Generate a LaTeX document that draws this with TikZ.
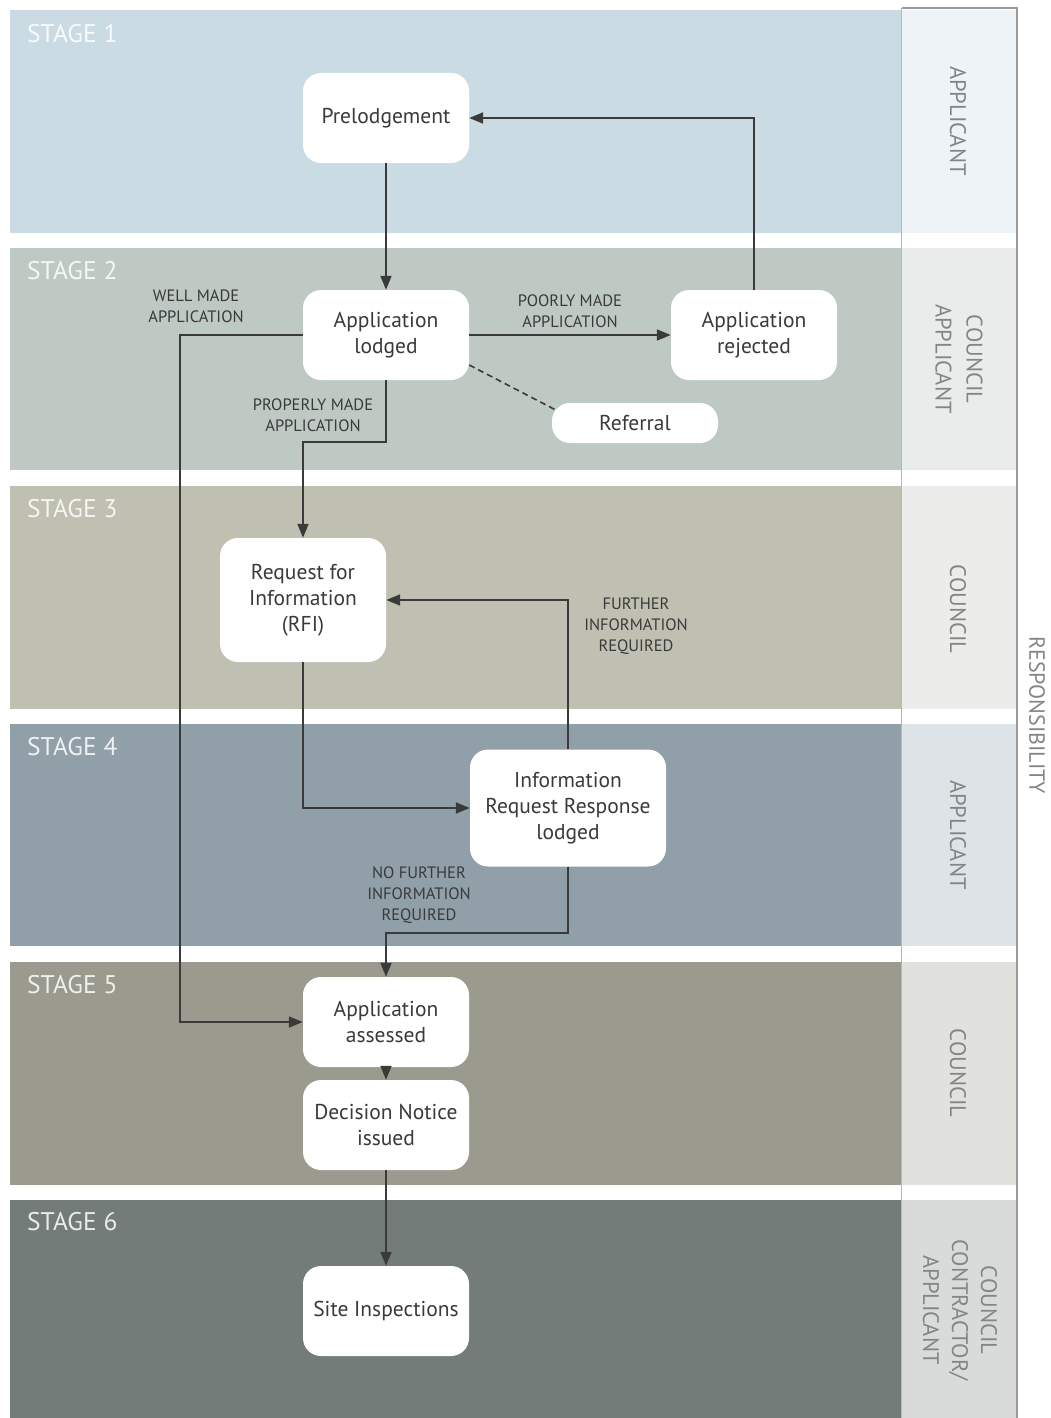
\documentclass[tikz,border=0pt]{standalone}
\usepackage{fontspec}
\setmainfont{PT Sans}
\usetikzlibrary{arrows.meta,calc}

\definecolor{bandA}{HTML}{CBDBE4}
\definecolor{bandB}{HTML}{BFC9C3}
\definecolor{bandC}{HTML}{BFBFB2}
\definecolor{bandD}{HTML}{909FA8}
\definecolor{bandE}{HTML}{9A9A8F}
\definecolor{bandF}{HTML}{747C7A}
\definecolor{cellA}{HTML}{EDF3F6}
\definecolor{cellB}{HTML}{E9ECEA}
\definecolor{cellC}{HTML}{ECECEA}
\definecolor{cellD}{HTML}{DDE3E6}
\definecolor{cellE}{HTML}{E1E1DD}
\definecolor{cellF}{HTML}{D8DBDA}
\definecolor{ink}{HTML}{3A3A3A}
\definecolor{rolegray}{HTML}{858585}
\definecolor{framegray}{HTML}{9A9A9A}
\definecolor{edgegray}{HTML}{B4B8BA}

\begin{document}
\begin{tikzpicture}[x=1pt,y=-1pt,
  box/.style={fill=white, rounded corners=18pt, minimum width=166pt,
    minimum height=90pt, align=center, inner sep=0pt, text=ink,
    font=\fontsize{21.5}{26}\selectfont},
  flow/.style={draw=ink, line width=1.8pt, -{Triangle[length=14pt,width=11pt]}},
  refline/.style={draw=ink, line width=1.6pt, dashed, dash pattern=on 6pt off 4pt},
  cond/.style={align=center, text=ink, inner sep=0pt,
    font=\fontsize{16.5}{21}\selectfont},
  stagelbl/.style={anchor=west, text=white, opacity=0.85, inner sep=0pt,
    font=\fontsize{25.5}{28}\selectfont},
  role/.style={rotate=-90, align=center, text=rolegray, inner sep=0pt,
    font=\fontsize{22.5}{31}\selectfont},
]
\useasboundingbox (0,0) rectangle (1050,1418);
\fill[white] (0,0) rectangle (1050,1418);

% stage bands
\fill[bandA] (10,10)   rectangle (901,233);
\fill[bandB] (10,248)  rectangle (901,470);
\fill[bandC] (10,486)  rectangle (901,709);
\fill[bandD] (10,724)  rectangle (901,946);
\fill[bandE] (10,962)  rectangle (901,1185);
\fill[bandF] (10,1200) rectangle (901,1418);

% responsibility cells
\fill[cellA] (902,10)   rectangle (1016,233);
\fill[cellB] (902,248)  rectangle (1016,470);
\fill[cellC] (902,486)  rectangle (1016,709);
\fill[cellD] (902,724)  rectangle (1016,946);
\fill[cellE] (902,962)  rectangle (1016,1185);
\fill[cellF] (902,1200) rectangle (1016,1418);
\draw[edgegray, line width=1pt] (901.5,1418) -- (901.5,8);
\draw[framegray, line width=1.2pt] (901.5,8) -- (1017,8) -- (1017,1418);

% stage titles
\node[stagelbl] (s1) at (27,34)   {STAGE 1};
\node[stagelbl] (s2) at (27,271)  {STAGE 2};
\node[stagelbl] (s3) at (27,509)  {STAGE 3};
\node[stagelbl] (s4) at (27,747)  {STAGE 4};
\node[stagelbl] (s5) at (27,985)  {STAGE 5};
\node[stagelbl] (s6) at (27,1222) {STAGE 6};

% responsibility labels
\node[role] (r1) at (958,121)  {APPLICANT};
\node[role] (r2) at (959,359)  {COUNCIL\\APPLICANT};
\node[role] (r3) at (958,609)  {COUNCIL};
\node[role] (r4) at (958,835)  {APPLICANT};
\node[role] (r5) at (958,1073) {COUNCIL};
\node[role, font=\fontsize{22.5}{29}\selectfont] (r6) at (960,1310) {COUNCIL\\CONTRACTOR/\\APPLICANT};
\node[rotate=-90, text=rolegray, inner sep=0pt, font=\fontsize{22}{24}\selectfont]
  (resp) at (1037,715) {RESPONSIBILITY};

% process steps
\node[box] (pre)      at (386,118)  {Prelodgement};
\node[box] (lodged)   at (386,335)  {Application\\lodged};
\node[box] (rej)      at (754,335)  {Application\\rejected};
\node[box, minimum height=40pt] (ref) at (635,423) {Referral};
\node[box, minimum height=124pt] (rfi) at (303,600) {Request for\\Information\\(RFI)};
\node[box, minimum width=196pt, minimum height=117pt] (irr) at (568,808)
  {Information\\Request Response\\lodged};
\node[box]  (assessed) at (386,1022) {Application\\assessed};
\node[box]  (decision) at (386,1125) {Decision Notice\\issued};
\node[box]  (site)     at (386,1311) {Site Inspections};

% connectors
\draw[flow] (pre) -- (lodged);
\draw[flow] (rej.north) |- (pre.east);
\draw[flow] (lodged) -- (rej);
\draw[refline] ($(lodged.east)+(0,30)$) -- ($(ref.west)+(4,-13)$);
\draw[flow] (lodged.west) -- ++(-123,0) |- (assessed.west);
\draw[flow] (lodged.south) -- ++(0,62) -| (rfi.north);
\draw[flow] (rfi.south) |- (irr.west);
\draw[flow] (irr.north) |- (rfi.east);
\draw[flow] (irr.south) -- ++(0,66) -| (assessed.north);
\draw[flow] (assessed) -- (decision);
\draw[flow] (decision) -- (site);

% branch conditions
\node[cond] (c1) at (196,306) {WELL MADE\\APPLICATION};
\node[cond] (c2) at (570,311) {POORLY MADE\\APPLICATION};
\node[cond] (c3) at (313,415) {PROPERLY MADE\\APPLICATION};
\node[cond] (c4) at (636,626) {FURTHER\\INFORMATION\\REQUIRED};
\node[cond] (c5) at (419,895) {NO FURTHER\\INFORMATION\\REQUIRED};
\end{tikzpicture}
\end{document}
